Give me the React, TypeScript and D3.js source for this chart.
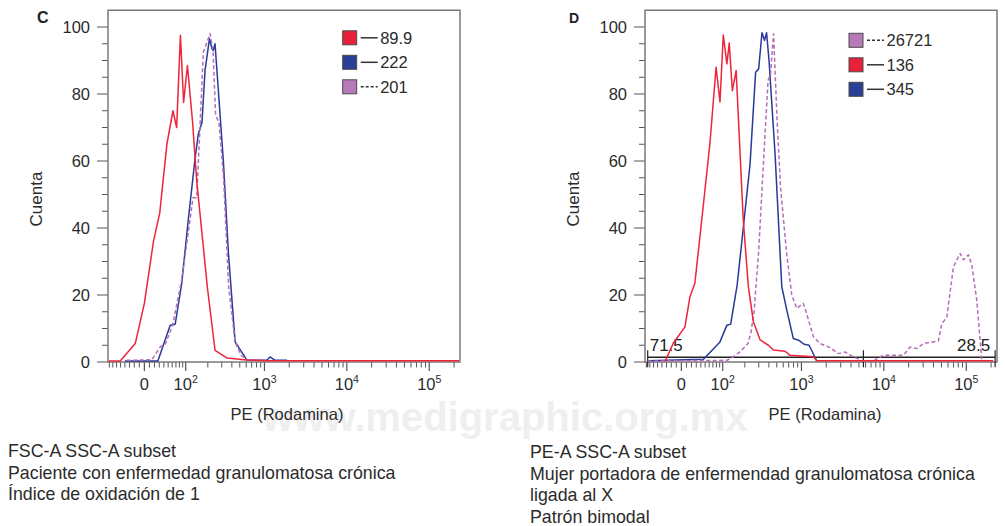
import React from 'react';
import * as d3 from 'd3';

// ---- data ----
const PE_MIN = -84;
const PE_MAX = 236000;
const COUNT_MAX = 105;
const ASINH_W = 70;

const yTicks = [0, 5, 10, 15, 20, 25, 30, 35, 40, 45, 50, 55, 60, 65, 70, 75, 80, 85, 90, 95, 100];
const yLabels = [0, 20, 40, 60, 80, 100];
const xMajor = [0, 100, 1000, 10000, 100000];
const xMajorBase = ['0', '10', '10', '10', '10'];
const xMajorExp = ['', '2', '3', '4', '5'];
const xMinor = [-80, -70, -60, -50, -40, -30, -20, -10, 10, 20, 30, 40, 50, 60, 70, 80, 90,
  200, 300, 400, 500, 600, 700, 800, 900, 2000, 3000, 4000, 5000, 6000, 7000, 8000, 9000,
  20000, 30000, 40000, 50000, 60000, 70000, 80000, 90000, 200000];

// Panel C series: [PE, count]
const cRed: [number, number][] = [
  [-82, 0.3], [-51, 0.3], [-18, 5.5], [0, 17.5], [18, 36], [31, 44.5], [47, 65], [62, 75], [72, 70],
  [83, 97.5], [93, 77.5], [106, 88.5], [125, 72], [143, 54], [198, 22], [247, 3.5], [346, 1.2],
  [609, 0.6], [1068, 0.4], [230000, 0.4]];
const cBlue: [number, number][] = [
  [-40, 0.3], [27, 0.3], [55, 11], [68, 11.3], [87, 23.5], [109, 42.4], [135, 60.3], [150, 68],
  [168, 71.5], [184, 87], [210, 96.5], [226, 93.5], [235, 93], [247, 95], [314, 60], [363, 32.4],
  [439, 6], [614, 0.5], [1068, 0.5], [1171, 1.5], [1348, 0.5], [1883, 0.5]];
const cPurple: [number, number][] = [
  [-36, 0.5], [15, 0.7], [32, 4.5], [44, 5.5], [61, 11], [87, 24.5], [108, 38], [127, 49], [143, 49],
  [175, 92.5], [214, 98], [233, 93], [251, 74], [278, 71], [316, 55], [365, 22.5], [439, 6],
  [519, 2], [632, 0.5], [1018, 0.5]];

// Panel D series
const dRed: [number, number][] = [
  [-33, 0.2], [-16, 5.6], [7, 10.5], [17, 19.5], [27, 23.5], [42, 42.4], [62, 65.3], [79, 88],
  [91, 77.6], [102, 97.6], [115, 89], [124, 95.2], [137, 81], [154, 87], [191, 42.4], [222, 22.5],
  [257, 12], [312, 6.6], [395, 5], [455, 3.6], [632, 3.2], [727, 2], [1397, 1.6], [1537, 0.4],
  [212000, 0.4]];
const dBlue: [number, number][] = [
  [-75, 0.4], [46, 0.8], [91, 6], [115, 11], [130, 11.3], [159, 23], [191, 40], [233, 59],
  [274, 86.5], [299, 87.5], [329, 98.3], [354, 96], [375, 98.3], [402, 90], [477, 62], [576, 22.5],
  [663, 15.5], [797, 7], [923, 6.5], [1077, 5.3], [1239, 5], [1537, 0.3]];
const dPurple: [number, number][] = [
  [-76, 0.3], [115, 0.5], [140, 1.5], [173, 3], [220, 5.5], [240, 9], [262, 15], [299, 33], [344, 60],
  [391, 84], [420, 86], [457, 98], [505, 72], [557, 52], [663, 32], [763, 20], [877, 16], [1056, 17.5],
  [1171, 14], [1397, 7.5], [1685, 5.5], [2227, 4.3], [2806, 2.5], [3386, 3], [4270, 1.5], [5650, 0.3],
  [7470, 0.3], [9870, 2], [17260, 2], [20830, 4.5], [25100, 4], [30200, 5.5], [45900, 6.3],
  [50500, 11.4], [58100, 13.4], [69900, 28.4], [84200, 32.4], [92400, 30.5], [106100, 32],
  [116700, 29], [134200, 18.4], [154300, 0.5], [211700, 0.3]];

const cLegendLabels = ['89.9', '222', '201'];
const dLegendLabels = ['26721', '136', '345'];
const dGate = [-76, 5650, 224000];
const dGateLabels = ['71.5', '28.5'];
const dGateCount = 1.4;

const notesC = ['FSC-A SSC-A subset', 'Paciente con enfermedad granulomatosa crónica', 'Índice de oxidación de 1'];
const notesD = ['PE-A SSC-A subset', 'Mujer portadora de enfermendad granulomatosa crónica', 'ligada al X', 'Patrón bimodal'];

// ---- styles ----
const RED = '#ee2439';
const BLUE = '#28399a';
const PURPLE = '#b46db8';
const RED_SQ = '#e8213a';
const BLUE_SQ = '#2a3f96';
const PURPLE_SQ = '#b67ab8';
const TEXT = '#2b2b2b';
const FONT = '"Liberation Sans", Arial, Helvetica, sans-serif';

const T = (v: number) => Math.asinh(v / ASINH_W);

type Series = { data: [number, number][]; color: string; dashed: boolean };
type LegendItem = { label: string; fill: string; dashed: boolean };

function Panel(props: {
  left: number; right: number; top: number; bottom: number;
  series: Series[]; legend: LegendItem[]; legendX: number; legendY: number;
  letter: string; letterX: number; letterSize: number; xLabelShift: number; gate?: boolean;
}) {
  const { left, right, top, bottom } = props;
  const lin = d3.scaleLinear().domain([T(PE_MIN), T(PE_MAX)]).range([left, right]);
  const x = (v: number) => lin(T(v));
  const y = d3.scaleLinear().domain([0, COUNT_MAX]).range([bottom, top]);
  const line = d3.line<[number, number]>().x(d => x(d[0])).y(d => y(d[1]));
  const cx = (left + right) / 2 + props.xLabelShift;
  return (
    <g>
      <text x={props.letterX} y={23} fontSize={props.letterSize} fontWeight="bold" fill="#222">{props.letter}</text>
      {yTicks.map(t => (
        <line key={'yt' + t} x1={left - (t % 20 === 0 ? 11 : 6)} x2={left} y1={y(t)} y2={y(t)} stroke="#555" strokeWidth={1} />
      ))}
      {yLabels.map(t => (
        <text key={'yl' + t} x={left - 18} y={y(t) + 5.8} textAnchor="end" fontSize={16.5} fill={TEXT}>{t}</text>
      ))}
      <text transform={`translate(${left - 66},${199}) rotate(-90)`} textAnchor="middle" fontSize={17} fill={TEXT}>Cuenta</text>
      {xMinor.map(t => (
        <line key={'xm' + t} x1={x(t)} x2={x(t)} y1={bottom} y2={bottom + 5.5} stroke="#555" strokeWidth={1} />
      ))}
      {xMajor.map(t => (
        <line key={'xM' + t} x1={x(t)} x2={x(t)} y1={bottom} y2={bottom + 9} stroke="#555" strokeWidth={1.2} />
      ))}
      {xMajor.map((t, i) => (
        <text key={'xl' + t} x={x(t)} y={390} textAnchor="middle" fontSize={16.5} fill={TEXT}>
          <tspan>{xMajorBase[i]}</tspan>
          {xMajorExp[i] ? <tspan dy={-7} fontSize={10.5}>{xMajorExp[i]}</tspan> : null}
        </text>
      ))}
      <text x={cx} y={419.5} textAnchor="middle" fontSize={16.5} fill={TEXT}>PE (Rodamina)</text>
      <rect x={left} y={top} width={right - left} height={bottom - top} fill="none" stroke="#7a7a7a" strokeWidth={1.5} />
      {props.gate ? (
        <g>
          <line x1={x(dGate[0])} x2={x(dGate[2])} y1={y(dGateCount)} y2={y(dGateCount)} stroke="#222" strokeWidth={1.6} />
          {dGate.map(g => (
            <line key={'g' + g} x1={x(g)} x2={x(g)} y1={y(dGateCount) - 7} y2={y(dGateCount) + 10} stroke="#222" strokeWidth={1.2} />
          ))}
          <text x={x(dGate[0]) + 2} y={351} fontSize={17} fill="#222">{dGateLabels[0]}</text>
          <text x={x(dGate[2]) - 5} y={351} textAnchor="end" fontSize={17} fill="#222">{dGateLabels[1]}</text>
        </g>
      ) : null}
      {props.series.map((s, i) => (
        <path key={'s' + i} d={line(s.data) || ''} fill="none" stroke={s.color} strokeWidth={1.5}
          strokeDasharray={s.dashed ? '4,2.5' : undefined} strokeLinejoin="round" />
      ))}
      {props.legend.map((l, i) => {
        const cy = props.legendY + i * 24.5;
        return (
          <g key={'lg' + i}>
            <rect x={props.legendX} y={cy - 7} width={14} height={14} fill={l.fill} stroke="#4a4a4a" strokeWidth={1} />
            <line x1={props.legendX + 18} x2={props.legendX + 35} y1={cy} y2={cy} stroke="#333" strokeWidth={1.5}
              strokeDasharray={l.dashed ? '3,2' : undefined} />
            <text x={props.legendX + 37.5} y={cy + 6} fontSize={16.5} fill={TEXT}>{l.label}</text>
          </g>
        );
      })}
    </g>
  );
}

export default function App() {
  return (
    <svg width={1005} height={526} style={{ position: 'absolute', left: 0, top: 0, fontFamily: FONT, background: '#fff' }}>
      <rect x={0} y={0} width={1005} height={526} fill="#fff" />
      <text x={505} y={431} textAnchor="middle" fontSize={40} fontWeight="bold" fill="#efefef">www.medigraphic.org.mx</text>
      <Panel left={108} right={460} top={10.25} bottom={362}
        series={[
          { data: cBlue, color: BLUE, dashed: false },
          { data: cPurple, color: PURPLE, dashed: true },
          { data: cRed, color: RED, dashed: false },
        ]}
        legend={[
          { label: cLegendLabels[0], fill: RED_SQ, dashed: false },
          { label: cLegendLabels[1], fill: BLUE_SQ, dashed: false },
          { label: cLegendLabels[2], fill: PURPLE_SQ, dashed: true },
        ]}
        legendX={342.7} legendY={37.8} letter="C" letterX={37} letterSize={16} xLabelShift={3} />
      <Panel left={645} right={997} top={10.25} bottom={362}
        series={[
          { data: dBlue, color: BLUE, dashed: false },
          { data: dPurple, color: PURPLE, dashed: true },
          { data: dRed, color: RED, dashed: false },
        ]}
        legend={[
          { label: dLegendLabels[0], fill: PURPLE_SQ, dashed: true },
          { label: dLegendLabels[1], fill: RED_SQ, dashed: false },
          { label: dLegendLabels[2], fill: BLUE_SQ, dashed: false },
        ]}
        legendX={849} legendY={40.3} letter="D" letterX={569} letterSize={14} xLabelShift={4} gate />
      {notesC.map((t, i) => (
        <text key={'nc' + i} x={8} y={457 + i * 21.5} fontSize={17.8} fill={TEXT}>{t}</text>
      ))}
      {notesD.map((t, i) => (
        <text key={'nd' + i} x={530} y={458 + i * 21.5} fontSize={17.8} fill={TEXT}>{t}</text>
      ))}
    </svg>
  );
}
